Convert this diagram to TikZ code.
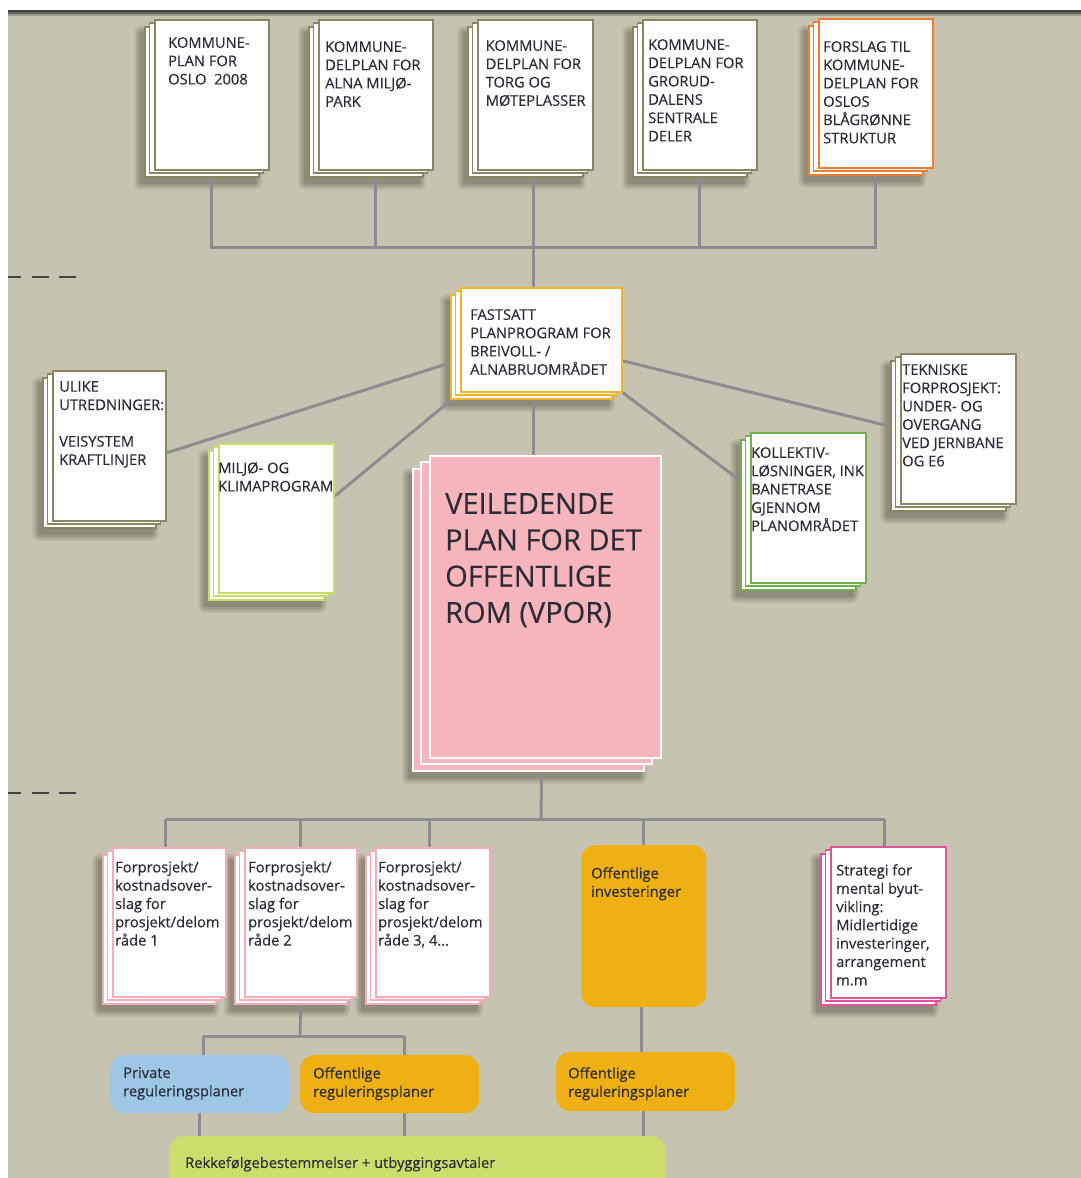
\documentclass[tikz,border=0pt]{standalone}
\usepackage{fontspec}
\setmainfont{Open Sans}[FakeBold=0.35]
\usetikzlibrary{calc}
\pgfdeclarelayer{back}
\pgfdeclarelayer{shad}
\pgfdeclarelayer{bg}
\pgfsetlayers{back,shad,bg,main}
\definecolor{bgc}{HTML}{C6C3B0}
\definecolor{olive}{HTML}{8B8562}
\definecolor{gold}{HTML}{F2B52A}
\definecolor{orng}{HTML}{EE7D31}
\definecolor{lime}{HTML}{CBDC6A}
\definecolor{grn}{HTML}{72B04E}
\definecolor{pinkb}{HTML}{F4AEB8}
\definecolor{magb}{HTML}{E2549A}
\definecolor{vporc}{HTML}{F6B5BB}
\definecolor{bluec}{HTML}{9DC7E5}
\definecolor{orfill}{HTML}{EEB013}
\definecolor{rekc}{HTML}{CDDD6C}
\definecolor{connc}{HTML}{8D8D8F}
\definecolor{txtc}{HTML}{2C2C38}
\definecolor{dashc}{HTML}{444444}
\definecolor{shadA}{HTML}{B9B6A3}
\definecolor{shadB}{HTML}{ABA895}
\definecolor{shadC}{HTML}{9C9987}
\definecolor{shadD}{HTML}{8E8B7A}
\tikzset{
  conn/.style={draw=connc, line width=3pt},
  ptxt/.style={anchor=north west, inner sep=0pt, align=left, text=txtc, font=\fontsize{14.7}{18.3}\selectfont},
  bigtxt/.style={anchor=north west, inner sep=0pt, align=left, text=txtc, font=\fontsize{29}{36.3}\selectfont},
  rbox/.style={anchor=north west, inner sep=0pt, rounded corners=14pt}
}
% name, x, y, w, h, border, fill, step
\newcommand\stackdoc[8]{%
  \coordinate (#1-sh) at (#2-2*#8-4,#3+1.75*#8+6);
  \begin{pgfonlayer}{shad}
  \fill[shadA, rounded corners=7pt] ([xshift=-7pt,yshift=7pt]#1-sh) rectangle ++(#4+14,#5+14);
  \fill[shadB, rounded corners=5pt] ([xshift=-5pt,yshift=5pt]#1-sh) rectangle ++(#4+10,#5+10);
  \fill[shadC, rounded corners=3pt] ([xshift=-3pt,yshift=3pt]#1-sh) rectangle ++(#4+6,#5+6);
  \fill[shadD, rounded corners=1pt] ([xshift=-1pt,yshift=1pt]#1-sh) rectangle ++(#4+2,#5+2);
  \end{pgfonlayer}
  \path[draw=#6, fill=#7, line width=1.6pt] (#2-2*#8,#3+1.75*#8) rectangle ++(#4,#5);
  \path[draw=#6, fill=#7, line width=1.6pt] (#2-#8,#3+0.85*#8) rectangle ++(#4,#5);
  \node[draw=#6, fill=#7, line width=1.6pt, anchor=north west, inner sep=0pt, minimum width=#4pt, minimum height=#5pt] (#1) at (#2,#3) {};
}
\begin{document}
\begin{tikzpicture}[x=1pt,y=-1pt]
\useasboundingbox (0,0) rectangle (1081,1178);
\begin{pgfonlayer}{back}
  \fill[white] (0,0) rectangle (1081,1178);
  \fill[bgc] (8,10) rectangle (1081,1178);
  \fill[black!75] (8,10) rectangle (1081,12);
  \fill[black!50!bgc] (8,12) rectangle (1081,14);
  \fill[black!20!bgc] (8,14) rectangle (1081,16);
\end{pgfonlayer}

% dashed marks
\draw[dashc, line width=2.5pt, dash pattern=on 17pt off 10.5pt, dash phase=4pt] (8,277) -- (78,277);
\draw[dashc, line width=2.5pt, dash pattern=on 17pt off 10.5pt, dash phase=4pt] (8,793) -- (78,793);

% top documents
\stackdoc{d1}{154}{19}{114}{150}{olive}{white}{4.5}
\stackdoc{d2}{318}{19}{114}{150}{olive}{white}{4.5}
\stackdoc{d3}{477}{19}{115}{150}{olive}{white}{4.5}
\stackdoc{d4}{642}{19}{114}{150}{olive}{white}{4.5}
\stackdoc{d5}{818}{18}{114}{149}{orng}{white}{4.5}
\node[ptxt] (t1) at (168,37) {KOMMUNE-\\PLAN FOR\\OSLO\ \ 2008};
\node[ptxt] (t2) at (325,41) {KOMMUNE-\\DELPLAN FOR\\ALNA MILJØ-\\PARK};
\node[ptxt] (t3) at (485.5,40) {KOMMUNE-\\DELPLAN FOR\\TORG OG\\MØTEPLASSER};
\node[ptxt] (t4) at (648,39) {KOMMUNE-\\DELPLAN FOR\\GRORUD-\\DALENS\\SENTRALE\\DELER};
\node[ptxt] (t5) at (823,41) {FORSLAG TIL\\KOMMUNE-\\DELPLAN FOR\\OSLOS\\BLÅGRØNNE\\STRUKTUR};

% middle
\stackdoc{fast}{460}{287}{161}{104}{gold}{white}{4.5}
\node[ptxt] (tf) at (470,309) {FASTSATT\\PLANPROGRAM FOR\\BREIVOLL- /\\ALNABRUOMRÅDET};
\stackdoc{ulike}{52}{370}{113}{150}{olive}{white}{4.5}
\node[ptxt] (tu) at (59,381) {ULIKE\\UTREDNINGER:\\\mbox{}\\VEISYSTEM\\KRAFTLINJER};
\stackdoc{milj}{218}{443}{115}{149}{lime}{white}{4.5}
\node[ptxt] (tm) at (218,462) {MILJØ- OG\\KLIMAPROGRAM};
\stackdoc{koll}{750}{432}{115}{150}{grn}{white}{4.5}
\node[ptxt] (tk) at (751,447) {KOLLEKTIV-\\LØSNINGER, INK\\BANETRASE\\GJENNOM\\PLANOMRÅDET};
\stackdoc{tek}{900}{353}{115}{150}{olive}{white}{4.5}
\node[ptxt] (tt) at (902,364) {TEKNISKE\\FORPROSJEKT:\\UNDER- OG\\OVERGANG\\VED JERNBANE\\OG E6};
\stackdoc{vpor}{429}{455}{231}{302}{white}{vporc}{8}
\node[bigtxt] (tv) at (445,493) {VEILEDENDE\\PLAN FOR DET\\OFFENTLIGE\\ROM (VPOR)};

% bottom documents
\stackdoc{f1}{112}{847}{113}{149}{pinkb}{white}{4.5}
\stackdoc{f2}{244}{847}{112}{149}{pinkb}{white}{4.5}
\stackdoc{f3}{375}{847}{114}{149}{pinkb}{white}{4.5}
\node[ptxt] (tf1) at (115,861) {Forprosjekt/\\kostnadsover-\\slag for\\prosjekt/delom\\råde 1};
\node[ptxt] (tf2) at (248,861) {Forprosjekt/\\kostnadsover-\\slag for\\prosjekt/delom\\råde 2};
\node[ptxt] (tf3) at (378,861) {Forprosjekt/\\kostnadsover-\\slag for\\prosjekt/delom\\råde 3, 4…};
\stackdoc{strat}{830}{846}{115}{151}{magb}{white}{4.5}
\node[ptxt] (ts) at (836,864) {Strategi for\\mental byut-\\vikling:\\Midlertidige\\investeringer,\\arrangement\\m.m};

\node[rbox, fill=orfill, minimum width=125pt, minimum height=162pt] (inv) at (581,845) {};
\node[ptxt] (ti) at (591,867) {Offentlige\\investeringer};
\node[rbox, fill=bluec, minimum width=179pt, minimum height=58pt] (priv) at (110,1055) {};
\node[ptxt] (tp) at (123,1067) {Private\\reguleringsplaner};
\node[rbox, fill=orfill, minimum width=179pt, minimum height=58pt] (offr) at (300,1055) {};
\node[ptxt] (to) at (313,1067) {Offentlige\\reguleringsplaner};
\node[rbox, fill=orfill, minimum width=179pt, minimum height=59pt] (offr2) at (556,1052) {};
\node[ptxt] (to2) at (568,1067) {Offentlige\\reguleringsplaner};
\node[rbox, fill=rekc, minimum width=496pt, minimum height=60pt] (rek) at (169,1136) {};
\node[ptxt] (tr) at (185,1156.5) {Rekkefølgebestemmelser + utbyggingsavtaler};

% connectors
\begin{pgfonlayer}{bg}
  \coordinate (tbus) at (533,247);
  \draw[conn] (d1.south) |- (tbus) -| (d5.south);
  \draw[conn] (d2.south) -- (d2.south |- tbus);
  \draw[conn] (d4.south) -- (d4.south |- tbus);
  \draw[conn] (d3.south -| tbus) -- (fast.north -| tbus);
  \draw[conn] (fast.south -| tbus) -- (vpor.north -| tbus);
  \draw[conn] ([yshift=-20pt]fast.west) -- ([yshift=-7pt]ulike.east);
  \draw[conn] (fast.south west) -- ([yshift=22pt]milj.east);
  \draw[conn] (fast.south east) -- ([yshift=20pt]koll.west);
  \draw[conn] ([yshift=-21pt]fast.east) -- (tek.west);
  \coordinate (bbus) at (541,819);
  \draw[conn] ([xshift=-3.5pt]vpor.south) -- (bbus);
  \draw[conn] ([xshift=-3.5pt]f1.north |- bbus) -- ([xshift=-3.5pt]strat.north |- bbus);
  \draw[conn] ([xshift=-3.5pt]f1.north |- bbus) -- ([xshift=-3.5pt]f1.north);
  \draw[conn] (f2.north |- bbus) -- (f2.north);
  \draw[conn] ([xshift=-3pt]f3.north |- bbus) -- ([xshift=-3pt]f3.north);
  \draw[conn] (inv.north |- bbus) -- (inv.north);
  \draw[conn] ([xshift=-3.5pt]strat.north |- bbus) -- ([xshift=-3.5pt]strat.north);
  \coordinate (pbus) at (300,1036);
  \draw[conn] (f2.south) -- (pbus);
  \draw[conn] ([xshift=3.5pt]priv.north |- pbus) -- ([xshift=14.5pt]offr.north |- pbus);
  \draw[conn] ([xshift=3.5pt]priv.north |- pbus) -- ([xshift=3.5pt]priv.north);
  \draw[conn] ([xshift=14.5pt]offr.north |- pbus) -- ([xshift=14.5pt]offr.north);
  \draw[conn] ([xshift=-2.5pt]inv.south) -- ([xshift=-2.5pt]inv.south |- offr2.north);
  \draw[conn] ([xshift=-0.5pt]priv.south) -- ([xshift=-0.5pt]priv.south |- rek.north);
  \draw[conn] ([xshift=14.5pt]offr.south) -- ([xshift=14.5pt]offr.south |- rek.north);
  \draw[conn] ([xshift=-2.5pt]offr2.south) -- ([xshift=-2.5pt]offr2.south |- rek.north);
\end{pgfonlayer}
\end{tikzpicture}
\end{document}
